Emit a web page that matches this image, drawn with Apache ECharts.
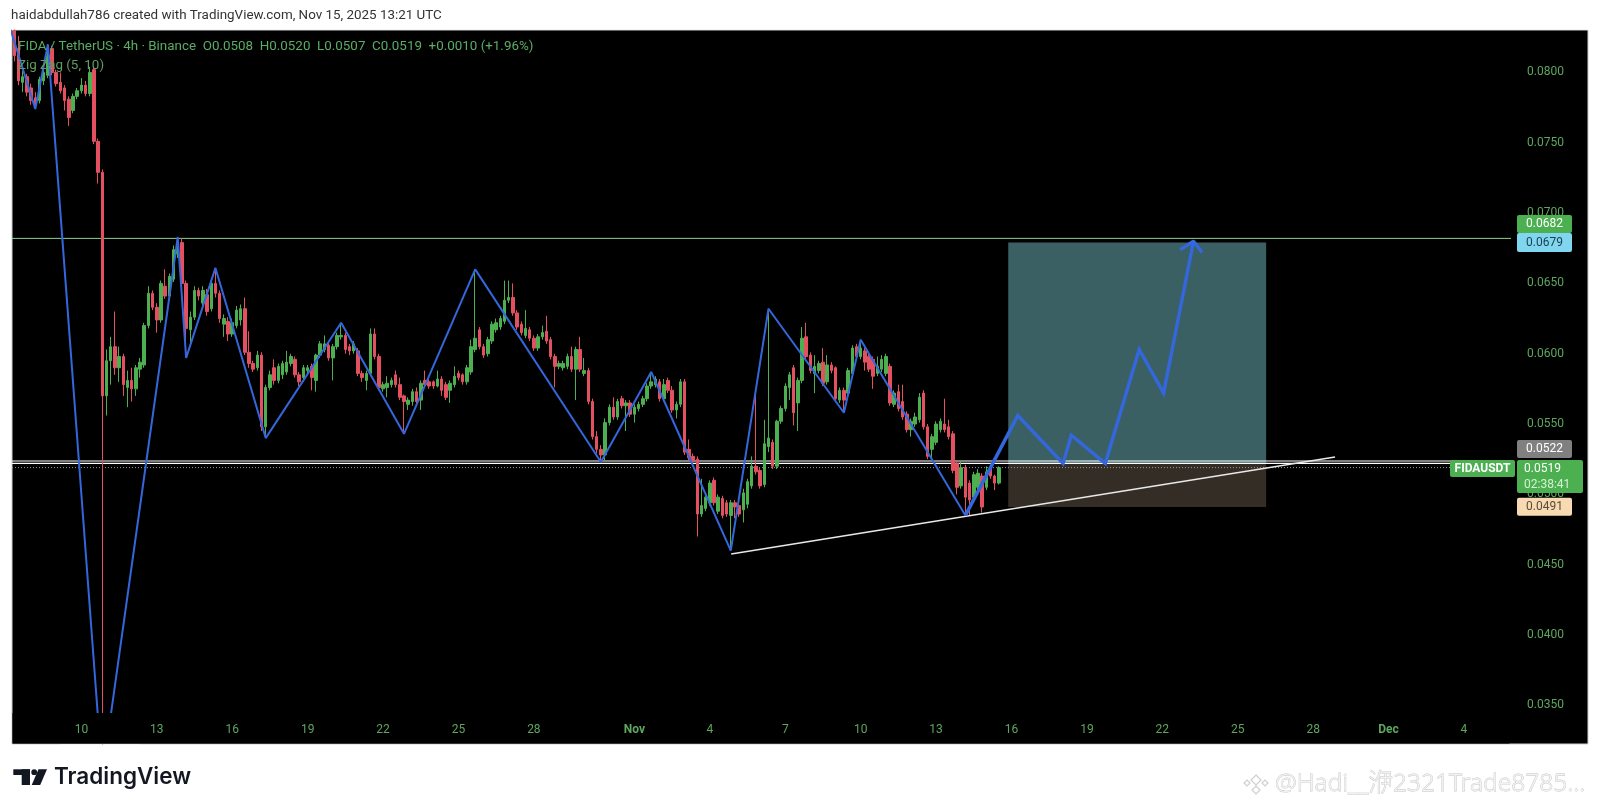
<!DOCTYPE html>
<html><head><meta charset="utf-8">
<script src="https://cdn.jsdelivr.net/npm/echarts@6/dist/echarts.min.js"></script>
<style>html,body{margin:0;padding:0;background:#fff;}#c{width:1600px;height:811px;}</style>
</head><body><div id="c"></div>
<script>
// time unit: day of October (Oct 10 00:00 = 10, Nov 1 = 32, Dec 1 = 62)
const candleStart = 7 + 8/24;      // first visible 4h candle: Oct 7 08:00
const candleStep = 4/24;           // 4h candles
// [open, close, low, high]
const ohlc = [
[0.0830,0.0812,0.0808,0.0835],[0.0817,0.0794,0.0791,0.0826],[0.0793,0.0797,0.0786,0.0801],[0.0797,0.0786,0.0783,0.0799],
[0.0789,0.0780,0.0777,0.0792],[0.0782,0.0777,0.0774,0.0786],[0.0780,0.0795,0.0778,0.0797],[0.0794,0.0800,0.0791,0.0803],
[0.0798,0.0812,0.0796,0.0820],[0.0817,0.0800,0.0798,0.0819],[0.0800,0.0792,0.0790,0.0802],[0.0793,0.0787,0.0785,0.0800],
[0.0789,0.0780,0.0773,0.0791],[0.0781,0.0768,0.0762,0.0783],[0.0773,0.0783,0.0771,0.0785],[0.0783,0.0787,0.0781,0.0789],
[0.0787,0.0791,0.0785,0.0796],[0.0791,0.0785,0.0783,0.0794],[0.0785,0.0800,0.0783,0.0804],[0.0802,0.0751,0.0749,0.0804],
[0.0751,0.0729,0.0721,0.0753],[0.0729,0.0570,0.0300,0.0731],[0.0570,0.0595,0.0556,0.0603],[0.0595,0.0605,0.0578,0.0612],
[0.0605,0.0590,0.0585,0.0630],[0.0590,0.0598,0.0580,0.0605],[0.0598,0.0578,0.0570,0.0600],[0.0576,0.0581,0.0562,0.0588],
[0.0581,0.0575,0.0566,0.0590],[0.0575,0.0590,0.0570,0.0592],[0.0589,0.0594,0.0583,0.0597],[0.0592,0.0620,0.0590,0.0622],
[0.0620,0.0643,0.0618,0.0648],[0.0643,0.0633,0.0631,0.0645],[0.0633,0.0624,0.0615,0.0636],[0.0624,0.0650,0.0622,0.0652],
[0.0648,0.0641,0.0639,0.0660],[0.0641,0.0655,0.0639,0.0657],[0.0653,0.0674,0.0651,0.0677],[0.0671,0.0679,0.0668,0.0683],
[0.0679,0.0650,0.0648,0.0682],[0.0650,0.0618,0.0597,0.0652],[0.0617,0.0626,0.0605,0.0630],[0.0626,0.0645,0.0624,0.0648],
[0.0645,0.0641,0.0638,0.0647],[0.0636,0.0645,0.0633,0.0648],[0.0642,0.0630,0.0627,0.0646],[0.0632,0.0650,0.0630,0.0653],
[0.0650,0.0643,0.0640,0.0661],[0.0643,0.0625,0.0622,0.0645],[0.0621,0.0625,0.0612,0.0628],[0.0623,0.0614,0.0609,0.0626],
[0.0614,0.0622,0.0612,0.0625],[0.0620,0.0631,0.0618,0.0634],[0.0624,0.0632,0.0620,0.0635],[0.0632,0.0601,0.0599,0.0640],
[0.0601,0.0593,0.0590,0.0616],[0.0593,0.0589,0.0587,0.0595],[0.0590,0.0599,0.0588,0.0602],[0.0599,0.0548,0.0545,0.0601],
[0.0548,0.0576,0.0540,0.0578],[0.0576,0.0585,0.0574,0.0588],[0.0590,0.0581,0.0578,0.0596],[0.0581,0.0591,0.0579,0.0593],
[0.0585,0.0593,0.0582,0.0595],[0.0587,0.0594,0.0585,0.0602],[0.0593,0.0598,0.0591,0.0600],[0.0596,0.0585,0.0583,0.0598],
[0.0585,0.0580,0.0577,0.0587],[0.0583,0.0590,0.0580,0.0592],[0.0588,0.0590,0.0586,0.0592],[0.0591,0.0583,0.0574,0.0593],
[0.0581,0.0599,0.0573,0.0600],[0.0599,0.0607,0.0597,0.0609],[0.0603,0.0607,0.0601,0.0613],[0.0606,0.0597,0.0595,0.0608],
[0.0597,0.0605,0.0581,0.0607],[0.0605,0.0613,0.0603,0.0615],[0.0612,0.0613,0.0610,0.0622],[0.0613,0.0603,0.0600,0.0615],
[0.0605,0.0602,0.0599,0.0607],[0.0602,0.0607,0.0600,0.0609],[0.0602,0.0586,0.0584,0.0604],[0.0586,0.0583,0.0580,0.0588],
[0.0581,0.0586,0.0574,0.0588],[0.0586,0.0614,0.0584,0.0618],[0.0614,0.0598,0.0596,0.0618],[0.0598,0.0576,0.0574,0.0600],
[0.0575,0.0578,0.0573,0.0580],[0.0576,0.0579,0.0569,0.0584],[0.0578,0.0581,0.0576,0.0583],[0.0585,0.0578,0.0576,0.0588],
[0.0578,0.0569,0.0567,0.0583],[0.0570,0.0566,0.0543,0.0571],[0.0564,0.0567,0.0560,0.0569],[0.0566,0.0573,0.0563,0.0575],
[0.0573,0.0566,0.0564,0.0576],[0.0567,0.0579,0.0560,0.0581],[0.0581,0.0578,0.0576,0.0588],[0.0580,0.0577,0.0575,0.0582],
[0.0580,0.0577,0.0575,0.0581],[0.0577,0.0582,0.0576,0.0588],[0.0582,0.0574,0.0570,0.0584],[0.0578,0.0569,0.0567,0.0580],
[0.0574,0.0579,0.0565,0.0581],[0.0578,0.0584,0.0576,0.0591],[0.0586,0.0583,0.0581,0.0588],[0.0585,0.0580,0.0578,0.0586],
[0.0580,0.0590,0.0578,0.0592],[0.0587,0.0605,0.0585,0.0610],[0.0603,0.0611,0.0601,0.0660],[0.0617,0.0605,0.0603,0.0619],
[0.0605,0.0599,0.0597,0.0607],[0.0600,0.0610,0.0598,0.0612],[0.0609,0.0621,0.0607,0.0623],[0.0617,0.0622,0.0615,0.0625],
[0.0619,0.0625,0.0617,0.0627],[0.0623,0.0638,0.0621,0.0652],[0.0638,0.0640,0.0636,0.0652],[0.0640,0.0629,0.0627,0.0650],
[0.0629,0.0619,0.0617,0.0631],[0.0621,0.0615,0.0613,0.0623],[0.0613,0.0618,0.0611,0.0631],[0.0617,0.0611,0.0609,0.0619],
[0.0611,0.0604,0.0602,0.0613],[0.0604,0.0612,0.0602,0.0614],[0.0612,0.0615,0.0610,0.0620],[0.0616,0.0609,0.0607,0.0627],
[0.0610,0.0598,0.0596,0.0612],[0.0598,0.0591,0.0576,0.0600],[0.0591,0.0593,0.0589,0.0595],[0.0590,0.0593,0.0588,0.0595],
[0.0591,0.0598,0.0589,0.0600],[0.0598,0.0589,0.0587,0.0605],[0.0589,0.0603,0.0567,0.0605],[0.0603,0.0589,0.0587,0.0612],
[0.0586,0.0588,0.0584,0.0597],[0.0588,0.0566,0.0564,0.0590],[0.0566,0.0541,0.0539,0.0568],[0.0541,0.0532,0.0529,0.0545],
[0.0532,0.0528,0.0523,0.0535],[0.0528,0.0551,0.0524,0.0554],[0.0551,0.0562,0.0549,0.0564],[0.0562,0.0555,0.0553,0.0569],
[0.0555,0.0566,0.0553,0.0568],[0.0568,0.0563,0.0561,0.0570],[0.0563,0.0565,0.0545,0.0567],[0.0565,0.0557,0.0555,0.0567],
[0.0557,0.0562,0.0551,0.0564],[0.0561,0.0564,0.0559,0.0566],[0.0564,0.0568,0.0562,0.0570],[0.0568,0.0577,0.0566,0.0579],
[0.0577,0.0580,0.0575,0.0587],[0.0578,0.0582,0.0576,0.0584],[0.0580,0.0568,0.0566,0.0582],[0.0568,0.0578,0.0566,0.0582],
[0.0581,0.0574,0.0572,0.0583],[0.0574,0.0560,0.0558,0.0577],[0.0560,0.0564,0.0554,0.0566],[0.0564,0.0580,0.0562,0.0582],
[0.0580,0.0530,0.0528,0.0582],[0.0532,0.0526,0.0524,0.0539],[0.0527,0.0524,0.0522,0.0529],[0.0525,0.0486,0.0470,0.0527],
[0.0486,0.0492,0.0484,0.0511],[0.0490,0.0498,0.0488,0.0500],[0.0494,0.0508,0.0492,0.0510],[0.0510,0.0494,0.0492,0.0512],
[0.0488,0.0498,0.0486,0.0500],[0.0497,0.0485,0.0483,0.0499],[0.0494,0.0486,0.0484,0.0496],[0.0485,0.0494,0.0460,0.0496],
[0.0494,0.0491,0.0483,0.0496],[0.0492,0.0486,0.0484,0.0494],[0.0489,0.0501,0.0480,0.0504],[0.0493,0.0509,0.0490,0.0511],
[0.0506,0.0520,0.0504,0.0527],[0.0520,0.0516,0.0514,0.0573],[0.0517,0.0506,0.0504,0.0519],[0.0507,0.0536,0.0505,0.0553],
[0.0534,0.0540,0.0530,0.0632],[0.0537,0.0520,0.0518,0.0539],[0.0520,0.0552,0.0518,0.0553],[0.0552,0.0561,0.0550,0.0563],
[0.0561,0.0577,0.0559,0.0579],[0.0576,0.0585,0.0567,0.0587],[0.0590,0.0558,0.0549,0.0592],[0.0565,0.0581,0.0545,0.0583],
[0.0581,0.0611,0.0579,0.0619],[0.0612,0.0598,0.0596,0.0622],[0.0599,0.0588,0.0586,0.0601],[0.0586,0.0591,0.0572,0.0599],
[0.0588,0.0593,0.0586,0.0595],[0.0594,0.0579,0.0577,0.0604],[0.0580,0.0592,0.0578,0.0599],[0.0592,0.0588,0.0586,0.0594],
[0.0590,0.0568,0.0566,0.0591],[0.0567,0.0574,0.0565,0.0576],[0.0574,0.0567,0.0558,0.0576],[0.0572,0.0588,0.0570,0.0590],
[0.0586,0.0604,0.0584,0.0606],[0.0605,0.0598,0.0596,0.0607],[0.0598,0.0604,0.0596,0.0610],[0.0602,0.0594,0.0588,0.0604],
[0.0598,0.0589,0.0587,0.0600],[0.0596,0.0584,0.0575,0.0598],[0.0586,0.0591,0.0584,0.0598],[0.0589,0.0596,0.0587,0.0599],
[0.0586,0.0598,0.0584,0.0600],[0.0591,0.0565,0.0563,0.0593],[0.0564,0.0572,0.0562,0.0574],[0.0573,0.0561,0.0559,0.0578],
[0.0566,0.0555,0.0553,0.0578],[0.0557,0.0546,0.0544,0.0559],[0.0546,0.0552,0.0541,0.0554],[0.0550,0.0555,0.0548,0.0558],
[0.0553,0.0569,0.0551,0.0572],[0.0572,0.0548,0.0546,0.0574],[0.0548,0.0527,0.0525,0.0550],[0.0532,0.0541,0.0525,0.0543],
[0.0537,0.0550,0.0535,0.0552],[0.0546,0.0552,0.0544,0.0554],[0.0550,0.0546,0.0544,0.0568],[0.0548,0.0541,0.0539,0.0553],
[0.0543,0.0517,0.0515,0.0545],[0.0522,0.0505,0.0500,0.0524],[0.0506,0.0519,0.0504,0.0524],[0.0519,0.0498,0.0485,0.0521],
[0.0508,0.0496,0.0485,0.0510],[0.0498,0.0514,0.0496,0.0516],[0.0505,0.0515,0.0503,0.0518],[0.0513,0.0491,0.0487,0.0515],
[0.0505,0.0516,0.0503,0.0520],[0.0519,0.0513,0.0511,0.0521],[0.0513,0.0508,0.0503,0.0514],[0.0508,0.0519,0.0507,0.0520]
];
// Zig Zag (5,10) pivots
const zigzagX = [7.0, 8.167, 8.667, 10.833, 13.833, 14.167, 15.333, 17.333, 20.333, 22.833, 25.667, 30.667, 32.667, 35.833, 37.333, 40.333, 41.0, 45.167];
const zigzagY = [0.0841, 0.0774, 0.0820, 0.0300, 0.0683, 0.0597, 0.0661, 0.0540, 0.0622, 0.0543, 0.0660, 0.0523, 0.0587, 0.0460, 0.0632, 0.0558, 0.0610, 0.0485];
// projected path (drawn)
const projX = [45.167, 47.25, 49.05, 49.38, 50.73, 52.08, 53.05, 54.24];
const projY = [0.0485, 0.0556, 0.0522, 0.0542, 0.0522, 0.0603, 0.0572, 0.0680];
const arrowX = [53.71, 54.24, 54.58];
const arrowY = [0.0674, 0.0680, 0.0672];
// rising trendline
const trendX = [35.85, 59.87];
const trendY = [0.04576, 0.05265];
// long position tool
const posX = [46.87, 57.13];
const posTarget = 0.0679, posEntry = 0.0522, posStop = 0.0491;
// horizontal levels
const resistLevel = 0.0682;
const supportLines = [0.05237, 0.05220];
const lastPrice = 0.0519;
// axes
const xMin = 7.24, xMax = 66.83, xLabelEdge = 67.11;
const tickDays = [10,13,16,19,22,25,28,32,35,38,41,44,47,50,53,56,59,62,65];
const tickLabels = ['10','13','16','19','22','25','28','Nov','4','7','10','13','16','19','22','25','28','Dec','4'];
const priceTicks = [0.035,0.040,0.045,0.050,0.055,0.060,0.065,0.070,0.075,0.080];

const UP = '#4caf50', DOWN = '#e3505f', BLUE = '#3467dc', AXC = '#5ea65f';
const FONT = 'Roboto, "Noto Sans", sans-serif';

const candleData = ohlc.map((r, i) => [candleStart + i * candleStep, r[0], r[1], r[2], r[3]]);
const zip = (xs, ys) => xs.map((x, i) => [x, ys[i]]);
const hline = (p, x1) => [[xMin, p], [x1, p]];

const chart = echarts.init(document.getElementById('c'), null, {renderer: 'canvas'});
chart.setOption({
  animation: false,
  backgroundColor: '#ffffff',
  grid: {left: 12, right: 90, top: 30, bottom: 98, containLabel: false},
  xAxis: {
    type: 'value', min: xMin, max: xMax, zlevel: 2,
    axisLine: {show: false}, axisTick: {show: false}, splitLine: {show: false},
    axisLabel: {
      customValues: tickDays, color: AXC, fontSize: 12, fontFamily: FONT, margin: 11,
      formatter: function (v) {
        const k = tickDays.findIndex(t => Math.abs(t - v) < 1e-6);
        const s = k >= 0 ? tickLabels[k] : '';
        return /^[A-Z]/.test(s) ? '{m|' + s + '}' : s;
      },
      rich: {m: {color: AXC, fontSize: 12, fontWeight: 'bold', fontFamily: FONT}}
    }
  },
  yAxis: {
    type: 'value', position: 'right', min: 0.03445, max: 0.08302, scale: true,
    axisLine: {show: false}, axisTick: {show: false}, splitLine: {show: false},
    axisLabel: {customValues: priceTicks, color: AXC, fontSize: 12, fontFamily: FONT, margin: 17,
      formatter: v => v.toFixed(4)}
  },
  series: [
    {
      type: 'candlestick', name: 'FIDAUSDT', data: candleData,
      encode: {x: 0, y: [1, 2, 3, 4]},
      barWidth: 3, clip: true, z: 3,
      itemStyle: {color: UP, color0: DOWN, borderColor: UP, borderColor0: DOWN, borderWidth: 1},
      markArea: {
        silent: true,
        data: [
          [{coord: [posX[0], posTarget], itemStyle: {color: '#3a6063'}}, {coord: [posX[1], posEntry]}],
          [{coord: [posX[0], posEntry], itemStyle: {color: '#342d26'}}, {coord: [posX[1], posStop]}]
        ]
      }
    },
    {type: 'line', data: hline(resistLevel, xLabelEdge), showSymbol: false, z: 2, clip: false,
      lineStyle: {color: '#8fcf94', width: 1}},
    {type: 'line', data: hline(supportLines[0], xMax), showSymbol: false, z: 2, clip: true,
      lineStyle: {color: '#ffffff', width: 1.2}},
    {type: 'line', data: hline(supportLines[1], xMax), showSymbol: false, z: 2, clip: true,
      lineStyle: {color: '#ffffff', width: 1.2}},
    {type: 'line', data: hline(lastPrice, xMax), showSymbol: false, z: 2, clip: true,
      lineStyle: {color: '#9a9a9a', width: 1, type: [1, 2]}},
    {type: 'line', data: zip(trendX, trendY), showSymbol: false, z: 4, clip: true,
      lineStyle: {color: '#e8e8e8', width: 1.5}},
    {type: 'line', data: zip(zigzagX, zigzagY), showSymbol: false, z: 5, clip: true,
      lineStyle: {color: BLUE, width: 2}},
    {type: 'line', data: zip(projX, projY), showSymbol: false, z: 5, clip: true,
      lineStyle: {color: BLUE, width: 3.5, join: 'miter'}},
    {type: 'line', data: zip(arrowX, arrowY), showSymbol: false, z: 5, clip: true,
      lineStyle: {color: BLUE, width: 3.5}}
  ]
});

const yPix = p => chart.convertToPixel({yAxisIndex: 0}, p);
function box(x, y, w, h, fill) {
  return {type: 'rect', zlevel: 2, z: 100, shape: {x: x, y: y, width: w, height: h, r: 2}, style: {fill: fill}};
}
function txt(x, y, s, fill, font, align) {
  return {type: 'text', zlevel: 2, z: 101, x: x, y: y,
    style: {text: s, fill: fill, font: font, textAlign: align || 'left', textVerticalAlign: 'middle'}};
}
const yR = yPix(resistLevel), yT = yPix(posTarget), yE = yPix(posEntry), yL = yPix(lastPrice), yS = yPix(posStop);
const BF = '12px ' + FONT;
const LOGO = '#131722';
const g = [
  {type: 'rect', z: -100, shape: {x: 12, y: 30, width: 1576, height: 714}, style: {fill: '#000000', stroke: '#cfcfcf', lineWidth: 1}},
  // covers (separate layer) trimming candle wicks that reach past the price pane
  {type: 'rect', zlevel: 1, z: 1, shape: {x: 12.5, y: 713, width: 1497, height: 30.5}, style: {fill: '#000000'}},
  {type: 'rect', zlevel: 1, z: 1, shape: {x: 60, y: 744.5, width: 80, height: 60}, style: {fill: '#ffffff'}},
  {type: 'rect', zlevel: 1, z: 1, shape: {x: 0, y: 0, width: 1600, height: 29.5}, style: {fill: '#ffffff'}},
  txt(11, 16, 'haidabdullah786 created with TradingView.com, Nov 15, 2025 13:21 UTC', '#333333', '13.4px ' + FONT),
  txt(18, 47, 'FIDA / TetherUS · 4h · Binance  O0.0508  H0.0520  L0.0507  C0.0519  +0.0010 (+1.96%)', '#5aad64', '13.4px ' + FONT),
  txt(18, 66, 'Zig Zag (5, 10)', '#5f9f63', '13.4px ' + FONT),
  // price axis labels
  box(1517, yR - 23.5, 55, 18, '#4caf50'), txt(1544.5, yR - 14.5, '0.0682', '#ffffff', BF, 'center'),
  box(1517, yT - 9.5, 55, 19, '#7fd6ee'), txt(1544.5, yT, '0.0679', '#1d3d4d', BF, 'center'),
  box(1517, yE - 23.5, 55, 18, '#808080'), txt(1544.5, yE - 14.5, '0.0522', '#ffffff', BF, 'center'),
  box(1450, yL - 7.5, 65, 17, '#4caf50'), txt(1482.5, yL + 1, 'FIDAUSDT', '#ffffff', 'bold 12px ' + FONT, 'center'),
  box(1517, yL - 7.5, 66, 33, '#4caf50'), txt(1524, yL + 1, '0.0519', '#ffffff', BF), txt(1524, yL + 17, '02:38:41', '#d4f2d4', BF),
  box(1517, yS - 9.3, 55, 18, '#f7d9b2'), txt(1544.5, yS, '0.0491', '#5b4a36', BF, 'center'),
  // TradingView logo
  {type: 'rect', zlevel: 2, shape: {x: 13.3, y: 769.3, width: 16.7, height: 5.7}, style: {fill: LOGO}},
  {type: 'rect', zlevel: 2, shape: {x: 21.7, y: 769.3, width: 8.3, height: 15.7}, style: {fill: LOGO}},
  {type: 'circle', zlevel: 2, shape: {cx: 34.2, cy: 772.2, r: 2.9}, style: {fill: LOGO}},
  {type: 'polygon', zlevel: 2, shape: {points: [[38.5, 769.3], [47, 769.3], [40.2, 785], [31.7, 785]]}, style: {fill: LOGO}},
  txt(54, 777.5, 'TradingView', LOGO, '600 22.5px Inter, ' + FONT),
  // watermark
  {type: 'polygon', zlevel: 2, shape: {points: [[1256, 775], [1261, 780], [1256, 785], [1251, 780]]}, style: {fill: 'none', stroke: '#cfcfcf', lineWidth: 1.2}},
  {type: 'polygon', zlevel: 2, shape: {points: [[1247, 780], [1250, 783], [1247, 786], [1244, 783]]}, style: {fill: 'none', stroke: '#cfcfcf', lineWidth: 1.2}},
  {type: 'polygon', zlevel: 2, shape: {points: [[1265, 780], [1268, 783], [1265, 786], [1262, 783]]}, style: {fill: 'none', stroke: '#cfcfcf', lineWidth: 1.2}},
  {type: 'polygon', zlevel: 2, shape: {points: [[1256, 786], [1260, 790], [1256, 794], [1252, 790]]}, style: {fill: 'none', stroke: '#cfcfcf', lineWidth: 1.2}},
  {type: 'text', zlevel: 2, z: 101, x: 1275, y: 784, style: {text: '@Hadi__洢2321Trade8785...', fill: '#f2f2f2', stroke: '#c4c4c4', lineWidth: 0.8,
    font: '300 24.5px "Noto Sans", "Noto Sans CJK SC", sans-serif', textVerticalAlign: 'middle'}}
];
chart.setOption({graphic: g});
</script>
</body></html>
